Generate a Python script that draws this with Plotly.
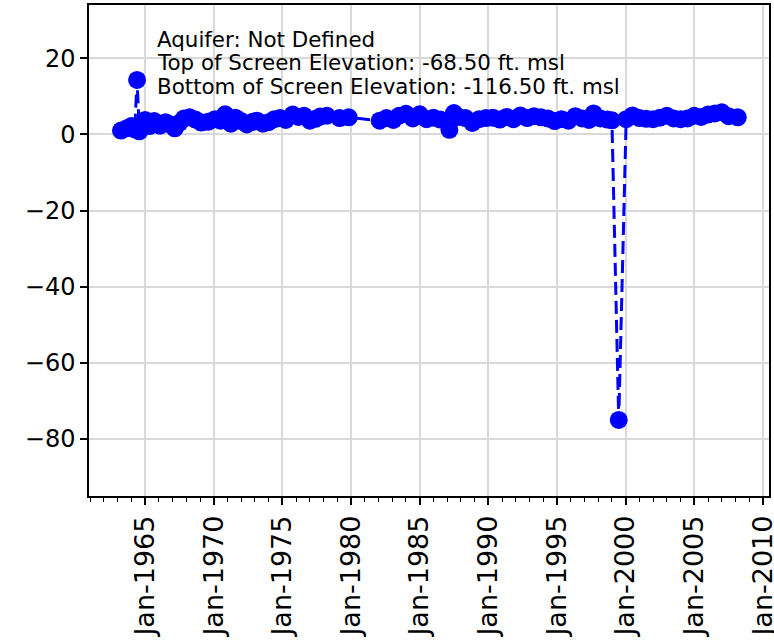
import plotly.graph_objects as go

dates = [
    "1963-04-01", "1963-09-01", "1964-01-01", "1964-04-01", "1964-06-01", "1964-08-01", "1964-10-01",
    "1965-01-01", "1965-05-01", "1965-09-01", "1966-02-01", "1966-07-01", "1966-11-01",
    "1967-03-01", "1967-07-01", "1967-11-01", "1968-04-01", "1968-09-01", "1969-02-01", "1969-08-01",
    "1970-02-01", "1970-07-01", "1970-11-01", "1971-04-01", "1971-08-01", "1972-01-01", "1972-06-01",
    "1972-11-01", "1973-03-01", "1973-08-01", "1974-01-01", "1974-06-01", "1974-11-01", "1975-04-01",
    "1975-10-01", "1976-03-01", "1976-08-01", "1977-01-01", "1977-06-01", "1977-10-01", "1978-04-01",
    "1979-03-01", "1979-11-01", "1982-02-01", "1982-08-01", "1983-02-01", "1983-07-01", "1984-01-01",
    "1984-07-01", "1985-01-01", "1985-07-01", "1986-01-01", "1986-07-01", "1987-03-01", "1987-07-01",
    "1987-11-01", "1988-05-01", "1988-11-01", "1989-05-01", "1989-11-01", "1990-05-01", "1990-11-01",
    "1991-05-01", "1991-11-01", "1992-05-01", "1992-11-01", "1993-05-01", "1993-11-01", "1994-05-01",
    "1994-11-01", "1995-05-01", "1995-11-01", "1996-05-01", "1996-11-01", "1997-05-01", "1997-09-01",
    "1998-03-01", "1998-09-01", "1999-01-01", "1999-07-01", "2000-01-15", "2000-07-01", "2001-01-01",
    "2001-07-01", "2002-01-01", "2002-07-01", "2003-01-01", "2003-07-01", "2004-01-01", "2004-07-01",
    "2005-01-01", "2005-07-01", "2006-01-01", "2006-07-01", "2007-01-01", "2007-07-01", "2008-03-01",
]
values = [
    1.0, 1.6, 2.2, 1.3, 14.3, 0.8, 2.5,
    3.8, 2.2, 3.5, 2.3, 3.2, 2.6,
    1.6, 3.0, 4.2, 4.5, 3.9, 3.1, 3.3,
    4.0, 3.6, 5.3, 2.8, 4.4, 3.5, 2.6,
    3.3, 3.6, 2.8, 3.2, 4.0, 4.3, 3.8,
    5.2, 4.6, 4.9, 3.6, 4.1, 4.7, 4.9,
    4.3, 4.5, 3.6, 4.3, 3.8, 4.9, 5.4,
    4.2, 5.3, 4.0, 4.4, 3.9, 1.2, 5.6,
    4.6, 4.3, 3.0, 4.0, 4.3, 4.4, 3.9,
    4.6, 4.0, 5.0, 4.3, 4.8, 4.5, 4.2,
    3.5, 4.0, 3.6, 4.8, 4.2, 3.8, 5.5,
    4.2, 3.9, 3.7, -75.0, 4.0, 5.0, 4.3,
    4.1, 4.0, 4.4, 4.9, 4.2, 4.0, 4.2,
    4.9, 4.6, 5.2, 5.5, 5.8, 4.8, 4.5,
]

x_range = ["1960-12-01", "2010-06-10"]
y_range = [-95, 34]
annotation_lines = [
    "Aquifer: Not Defined",
    "Top of Screen Elevation: -68.50 ft. msl",
    "Bottom of Screen Elevation: -116.50 ft. msl",
]
annotation_y = [0.929, 0.882, 0.835]

FONT = "DejaVu Sans"

fig = go.Figure()
fig.add_trace(go.Scatter(
    x=dates, y=values, mode="lines+markers",
    line=dict(color="#0000ff", width=3, dash="13px,6px"),
    marker=dict(color="#0000ff", size=18, line=dict(width=0)),
    showlegend=False,
))

for txt, yy in zip(annotation_lines, annotation_y):
    fig.add_annotation(
        xref="paper", yref="paper", x=0.099, y=yy, xanchor="left", yanchor="middle",
        align="left", showarrow=False, text=txt, borderpad=0,
        font=dict(family=FONT, size=21.4, color="black"),
    )

fig.update_layout(
    width=774, height=641,
    margin=dict(l=89, r=5, t=5, b=145, autoexpand=False),
    paper_bgcolor="white", plot_bgcolor="white",
    font=dict(family=FONT, size=24, color="black"),
)
fig.update_xaxes(
    type="date", range=x_range, tickformat="%b-%Y", tickangle=-90,
    tick0="1965-01-01", dtick="M60", ticklabeloverflow="allow",
    tickfont=dict(size=27), automargin=False,
    showgrid=True, gridcolor="#d9d9d9", gridwidth=1.5,
    showline=True, linecolor="black", linewidth=1.5, mirror=True,
    ticks="outside", ticklen=7, tickwidth=1.5, tickcolor="black",
    minor=dict(dtick="M12", tick0="1965-01-01", ticks="outside", ticklen=4, tickwidth=1, tickcolor="black", showgrid=False),
    zeroline=False,
)
fig.update_yaxes(
    range=y_range, dtick=20, tick0=0, automargin=False,
    showgrid=True, gridcolor="#d9d9d9", gridwidth=1.5,
    showline=True, linecolor="black", linewidth=1.5, mirror=True,
    ticks="outside", ticklen=7, tickwidth=1.5, tickcolor="black",
    zeroline=False,
)

fig.write_html("out.html")
